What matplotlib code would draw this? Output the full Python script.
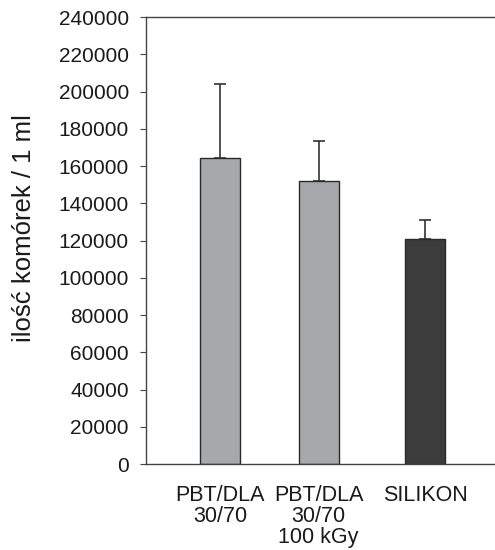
import matplotlib.pyplot as plt
import numpy as np

plt.rcParams['font.family'] = ['Liberation Sans', 'DejaVu Sans']

categories = ['PBT/DLA\n30/70', 'PBT/DLA\n30/70\n100 kGy', 'SILIKON']
values = [164500, 152000, 120700]
errors = [39500, 21500, 10300]
colors = ['#a7a8ab', '#a7a8ab', '#3c3c3c']

xpos = np.array([0, 1, 2.08])

fig = plt.figure(figsize=(4.95, 5.5), dpi=100)
ax = fig.add_axes([0.294, 0.156, 0.706, 0.813])

ax.bar(xpos, values, width=0.405, color=colors, edgecolor='#2a2a2a', linewidth=1.0,
       zorder=2)
ax.errorbar(xpos, values, yerr=[np.zeros(len(values)), errors], fmt='none',
            ecolor='#333333', elinewidth=1.2, capsize=4.5, capthick=1.2, zorder=1)

ax.set_xlim(-0.753, 2.786)
ax.set_ylim(0, 240000)
ax.set_yticks(np.arange(0, 240001, 20000))
ax.set_xticks(xpos)
ax.set_xticklabels(categories, fontsize=15.5, linespacing=1.0)
ax.tick_params(axis='x', length=0, pad=15)
ax.tick_params(axis='y', labelsize=15, length=4, pad=8, color='#444444',
               labelcolor='#1a1a1a')
ax.tick_params(axis='x', labelcolor='#1a1a1a')
ax.set_ylabel('ilość komórek / 1 ml', fontsize=18.5, color='#1a1a1a')
ax.yaxis.set_label_coords(-0.312, 0.528)

for s in ['left', 'top', 'bottom']:
    ax.spines[s].set_color('#444444')
    ax.spines[s].set_linewidth(1.0)
ax.spines['right'].set_visible(False)

fig.savefig('out.png', dpi=100)
